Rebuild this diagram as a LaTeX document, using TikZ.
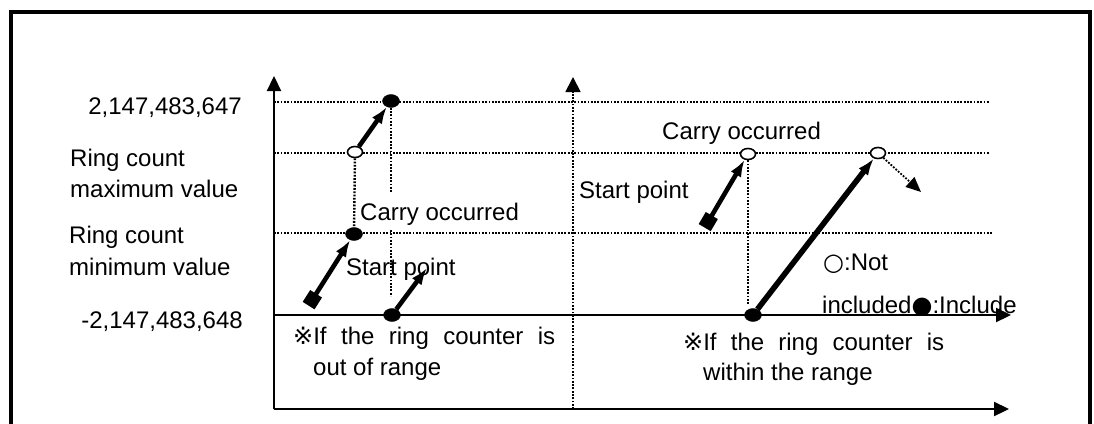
\documentclass[tikz,border=0pt]{standalone}
\usepackage{fontspec}
\setmainfont{Liberation Sans}
\newfontfamily\symfont{DejaVu Sans}
\usetikzlibrary{arrows.meta,shapes.geometric}
\begin{document}
\begin{tikzpicture}[x=1pt,y=-1pt,
  lbl/.style={inner sep=0pt,anchor=base west,font=\fontsize{24}{30}\selectfont},
  rlbl/.style={inner sep=0pt,anchor=base east,font=\fontsize{24}{30}\selectfont},
  dotln/.style={line width=1.8pt,dash pattern=on 1.8pt off 1.5pt},
  axisln/.style={line width=2.2pt,-{Triangle[length=15pt,width=14pt]}},
  thkarr/.style={line width=4.6pt,-{Latex[length=17pt,width=12pt]}},
  sqarr/.style={line width=4.6pt,{Square[length=14pt,width=14pt]}-{Latex[length=17pt,width=12pt]}},
  bdot/.style={ellipse,draw=black,fill=black,minimum width=17pt,minimum height=13pt,inner sep=0pt},
  wdot/.style={ellipse,draw=black,fill=white,line width=1.6pt,minimum width=15pt,minimum height=11pt,inner sep=0pt}]
\useasboundingbox (0,0) rectangle (1094,423);
% frame
\draw[line width=4pt] (11,440) -- (11,12) -- (1090,12) -- (1090,440);
% coordinates
\coordinate (o1) at (274,409);
\coordinate (top1) at (274,76);
\coordinate (xend) at (1009,409);
\coordinate (m0) at (274,315);
\coordinate (mend) at (1011,315);
\coordinate (o2) at (573,409);
\coordinate (top2) at (573,77);
\coordinate (h1a) at (274,102); \coordinate (h1b) at (989,102);
\coordinate (h2a) at (274,153); \coordinate (h2b) at (989,153);
\coordinate (h3a) at (274,233); \coordinate (h3b) at (993,233);
% dotted guides
\draw[dotln] (h1a) -- (h1b);
\draw[dotln] (h2a) -- (h2b);
\draw[dotln] (h3a) -- (h3b);
\draw[dotln,-{Triangle[length=15pt,width=15pt]}] (o2) -- (top2);
% axes
\draw[axisln] (o1) -- (top1);
\draw[axisln] (o1) -- (xend);
\draw[axisln] (m0) -- (mend);
% dots
\node[bdot] (b1) at (391,101) {};
\node[wdot] (w1) at (355,152) {};
\node[bdot] (b2) at (354,234) {};
\node[bdot] (b3) at (392,315) {};
\node[wdot] (w2) at (748,154) {};
\node[bdot] (b4) at (753,315) {};
\node[wdot] (w3) at (878,153) {};
% dotted drops
\coordinate (c1) at (391,193);
\coordinate (c2) at (391,230);
\coordinate (c3) at (391,296);
\coordinate (c4) at (748,304);
\draw[dotln,line width=2.4pt] (w1) -- (b2);
\draw[dotln,line width=2.4pt] (b1) -- (c1);
\draw[dotln,line width=2.4pt] (c2) -- (c3);
\draw[dotln,line width=2.4pt] (w2) -- (c4);
% arrows
\coordinate (sq1) at (308.6,305.6);
\coordinate (sq2) at (704.7,227.6);
\coordinate (e3) at (427,268);
\coordinate (e4) at (921,192);
\draw[sqarr] (sq1) -- (b2);
\draw[thkarr] (w1) -- (b1);
\draw[thkarr] (b3) -- (e3);
\draw[sqarr] (sq2) -- (w2);
\draw[thkarr,line width=5.6pt] (b4) -- (w3);
\draw[dotln,-{Triangle[length=15pt,width=13pt]}] (w3) -- (e4);
% labels
\node[rlbl] (vmax) at (242,114) {2,147,483,647};
\node[rlbl] (vmin) at (243,328) {-2,147,483,648};
\node[lbl] (rmax1) at (70,166) {Ring count};
\node[lbl] (rmax2) at (70,197) {maximum value};
\node[lbl] (rmin1) at (69,243) {Ring count};
\node[lbl] (rmin2) at (69,275) {minimum value};
\node[lbl] (carryL) at (360,220) {Carry occurred};
\node[lbl] (startL) at (346,275) {Start point};
\node[lbl] (carryR) at (662,139) {Carry occurred};
\node[lbl] (startR) at (579,198) {Start point};
\node[lbl] (notinc) at (823,270) {{\symfont ○}:Not};
\node[lbl] (inc) at (822,313) {included{\symfont ●}:Include};
\node[lbl] (outA) at (293,344) {\makebox[262pt][s]{{\symfont ※}If the ring counter is}};
\node[lbl] (outB) at (313,375) {out of range};
\node[lbl] (inA) at (683,350) {\makebox[261pt][s]{{\symfont ※}If the ring counter is}};
\node[lbl] (inB) at (703,380) {within the range};
\end{tikzpicture}
\end{document}
